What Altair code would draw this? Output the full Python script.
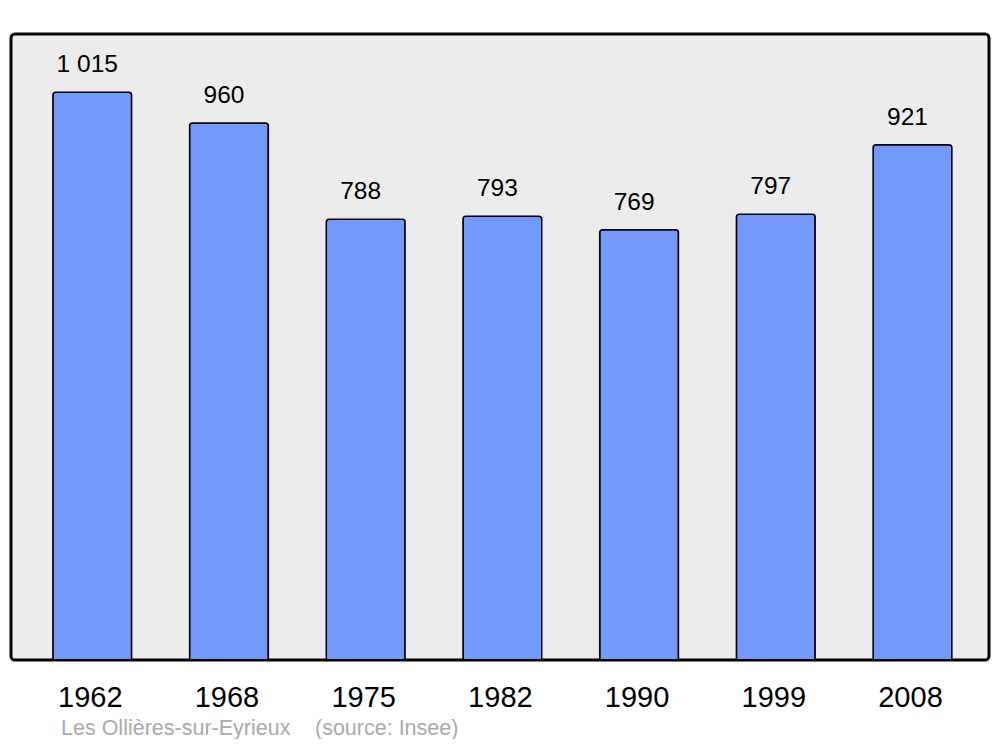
import altair as alt
import pandas as pd

years = ["1962", "1968", "1975", "1982", "1990", "1999", "2008"]
population = [1015, 960, 788, 793, 769, 797, 921]
labels = ["1 015", "960", "788", "793", "769", "797", "921"]
source_place = "Les Ollières-sur-Eyrieux"
source_ref = "(source: Insee)"

df = pd.DataFrame({"year": years, "pop": population, "label": labels})

x_enc = alt.X("year:N", sort=years, title=None,
              scale=alt.Scale(paddingInner=0.424, paddingOuter=0.289, align=0.53),
              axis=alt.Axis(ticks=False, domain=False, labelAngle=0, labelFontSize=29,
                            labelFont="Liberation Sans", labelColor="black",
                            labelBaseline="alphabetic", labelPadding=46, labelOffset=-2,
                            grid=False))
y_enc = alt.Y("pop:Q", title=None, scale=alt.Scale(domain=[0, 1119], nice=False),
              axis=None)

bars = alt.Chart(df).mark_bar(
    color="#7399ff", stroke="black", strokeWidth=1.5,
    cornerRadiusTopLeft=3, cornerRadiusTopRight=3
).encode(x=x_enc, y=y_enc)

text = alt.Chart(df).mark_text(
    font="Liberation Sans", fontSize=24.5, color="black",
    baseline="alphabetic", dy=-20, dx=-5
).encode(x=alt.X("year:N", sort=years), y="pop:Q", text="label:N")

src1 = alt.Chart(pd.DataFrame({"t": [source_place]})).mark_text(
    font="Liberation Sans", fontSize=21.5, color="#aaaaaa", align="left",
    baseline="alphabetic"
).encode(x=alt.value(50), y=alt.value(701), text="t:N")

src2 = alt.Chart(pd.DataFrame({"t": [source_ref]})).mark_text(
    font="Liberation Sans", fontSize=21.5, color="#aaaaaa", align="left",
    baseline="alphabetic"
).encode(x=alt.value(304), y=alt.value(701), text="t:N")

chart = alt.layer(bars, text, src1, src2).properties(
    width=978, height=626,
    autosize=alt.AutoSizeParams(type="none"),
    padding={"left": 3, "top": 26, "right": 3, "bottom": 79},
).configure_view(
    fill="#ececec", stroke="black", strokeWidth=3, cornerRadius=4
)

chart.save("out.html", embed_options={"renderer": "svg", "actions": False})
